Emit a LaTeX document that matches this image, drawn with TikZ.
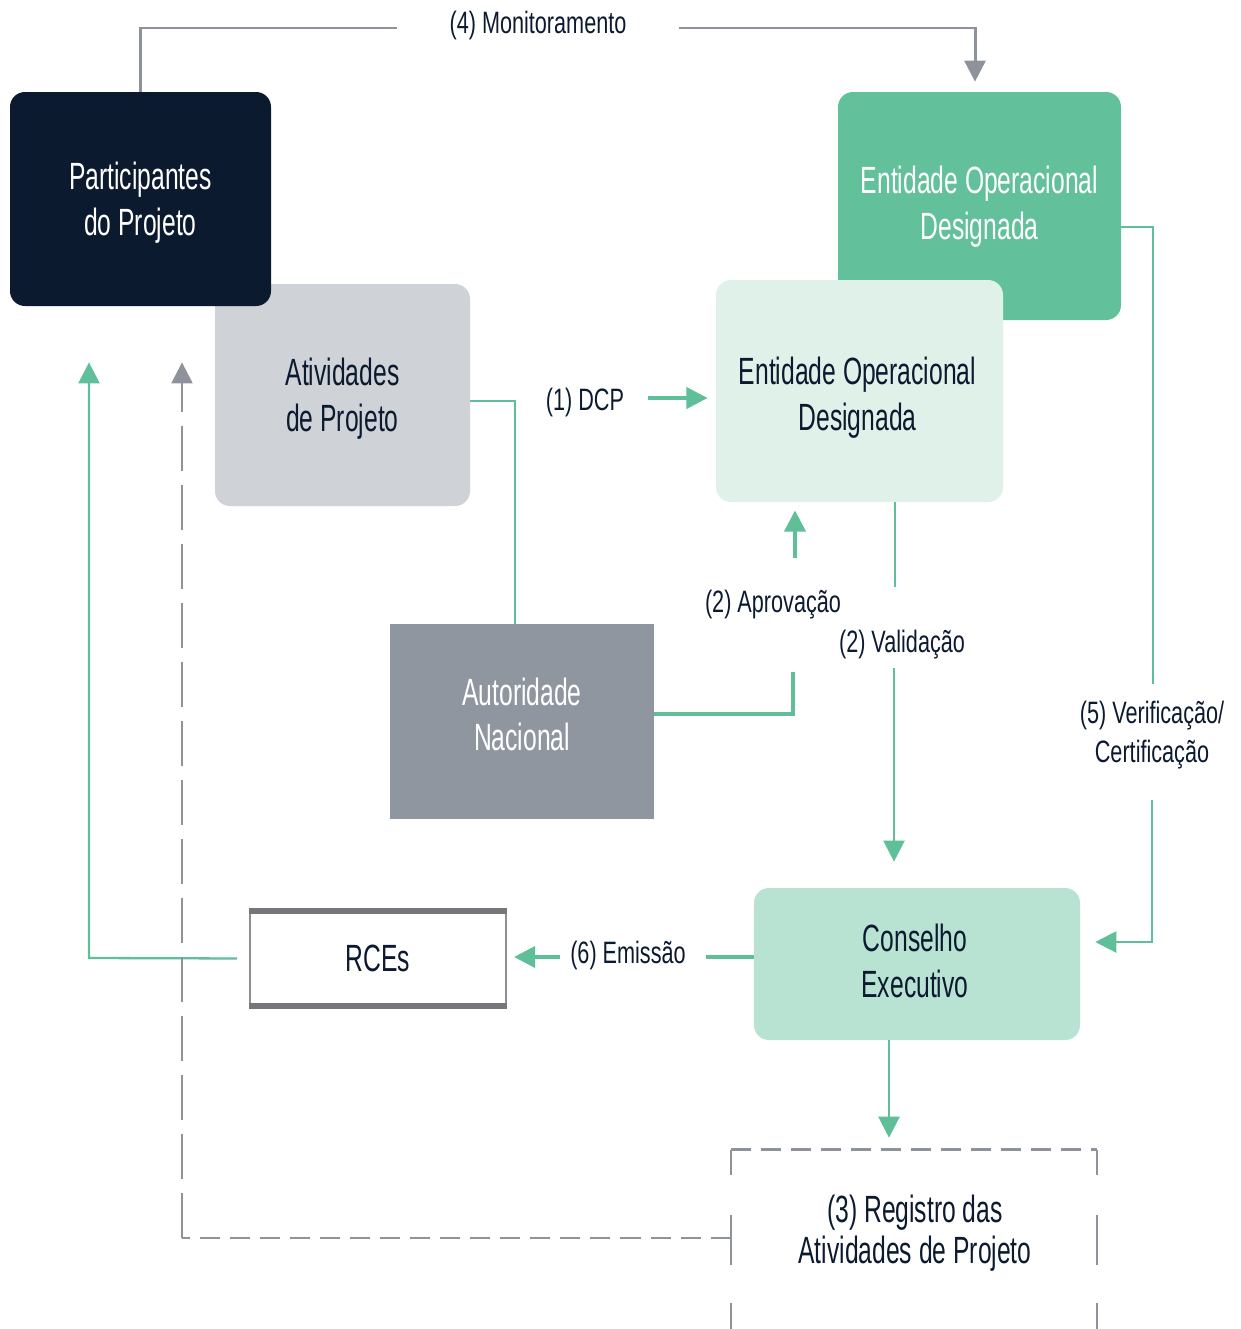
\documentclass[tikz,border=0pt]{standalone}
\usepackage{fontspec}
\usetikzlibrary{arrows.meta}
\newfontfamily\boxfont{Liberation Sans}[FakeStretch=0.65]
\newfontfamily\labfont{Liberation Sans}[FakeStretch=0.70]
\newdimen\pxu \pxu=0.02cm
\definecolor{navy}{HTML}{0C1A30}
\definecolor{eodgreen}{HTML}{62C09B}
\definecolor{eodlight}{HTML}{E0F1EA}
\definecolor{consgreen}{HTML}{B8E3D3}
\definecolor{atvgray}{HTML}{CFD2D7}
\definecolor{autgray}{HTML}{9096A0}
\definecolor{linegreen}{HTML}{5EBF98}
\definecolor{linegray}{HTML}{8E939B}
\definecolor{rceborder}{HTML}{8E8E93}
\definecolor{rcedark}{HTML}{77777B}
\begin{document}
\begin{tikzpicture}[x=0.02cm,y=-0.02cm,
  boxn/.style={inner sep=0pt, rounded corners=8.5pt},
  boxt/.style={inner sep=0pt, align=center,
    font=\boxfont\fontsize{21.6pt}{26pt}\selectfont},
  lab/.style={inner sep=0pt, align=center, text=navy,
    font=\labfont\fontsize{17.6pt}{22pt}\selectfont},
  gl/.style={draw=linegreen, line width=1.3pt},
  gt/.style={draw=linegreen, line width=2pt},
  gmon/.style={draw=linegray, line width=1.7pt},
  gdash/.style={draw=linegray, line width=1.4pt},
  tipg/.style={-{Triangle[width=12pt,length=12pt]}},
]
\useasboundingbox (0,0) rectangle (1241,1329);

% boxes (back to front)
\node[boxn, fill=atvgray, minimum width=255\pxu, minimum height=222\pxu] (atv) at (342.5,395) {};
\node[boxt, text=navy] (atvT) at ([yshift=-4\pxu]atv.center) {Atividades\\de Projeto};
\node[boxn, fill=navy, minimum width=261\pxu, minimum height=214\pxu] (part) at (140.5,199) {};
\node[boxt, text=white] (partT) at ([yshift=-4\pxu]part.center) {Participantes\\do Projeto};
\node[boxn, fill=eodgreen, minimum width=283\pxu, minimum height=228\pxu] (eodA) at (979.5,206) {};
\node[boxt, text=white] (eodAT) at ([yshift=-1\pxu]eodA.center) {Entidade Operacional\\Designada};
\node[boxn, fill=eodlight, minimum width=287\pxu, minimum height=222\pxu] (eodB) at (859.5,391) {};
\node[boxt, text=navy] (eodBT) at ([xshift=-2\pxu,yshift=-7\pxu]eodB.center) {Entidade Operacional\\Designada};
\node[boxn, rounded corners=0pt, fill=autgray, minimum width=264\pxu, minimum height=195\pxu] (aut) at (522,721.5) {};
\node[boxt, text=white] (autT) at ([yshift=7\pxu]aut.center) {Autoridade\\Nacional};
\node[boxn, rounded corners=0pt, fill=white, draw=rceborder, line width=1.2pt, minimum width=256\pxu, minimum height=93\pxu] (rce) at (378,958.5) {};
\node[boxt, text=navy] (rceT) at (rce.center) {RCEs};
\draw[rcedark, line width=3.4pt] (rce.north west) -- (rce.north east);
\draw[rcedark, line width=3.4pt] (rce.south west) -- (rce.south east);
\node[boxn, fill=consgreen, minimum width=326\pxu, minimum height=152\pxu] (cons) at (917,964) {};
\node[boxt, text=navy] (consT) at ([xshift=-2\pxu,yshift=3\pxu]cons.center) {Conselho\\Executivo};

% registro frame
\node[inner sep=0pt, minimum width=366\pxu, minimum height=179\pxu] (reg) at (914,1239.5) {};
\node[boxt, text=navy, font=\boxfont\fontsize{21.6pt}{23.5pt}\selectfont] (regT) at (915,1233) {(3) Registro das\\Atividades de Projeto};
\draw[gdash, dash pattern=on 11.4pt off 5.7pt] (reg.north west) -- (reg.north east);
\draw[gdash, line width=1.2pt, dash pattern=on 14.2pt off 22.8pt on 28.5pt off 21.6pt on 30pt off 10pt] (reg.north west) -- (reg.south west);
\draw[gdash, line width=1.2pt, dash pattern=on 14.2pt off 22.8pt on 28.5pt off 21.6pt on 30pt off 10pt] (reg.north east) -- (reg.south east);

% labels
\node[lab] (mon) at (538,25) {(4) Monitoramento};
\node[lab] (dcp) at (585,402) {(1) DCP};
\node[lab] (apr) at (773,605) {(2) Aprovação};
\node[lab] (val) at (902,645) {(2) Validação};
\node[lab] (ver) at (1152,735) {(5) Verificação/\\Certificação};
\node[lab] (emi) at (628,955) {(6) Emissão};

% (4) Monitoramento
\coordinate (mL) at (397,28);
\coordinate (mR) at (679,28);
\coordinate (mX) at (975,92);
\draw[gmon] (part.north) |- (mL);
\draw[gmon, tipg, shorten >=5.7pt] (mR) -| (mX |- eodA.north);

% Atividades -> Autoridade
\draw[gl] ([yshift=-6\pxu]atv.east) -| ([xshift=-7\pxu]aut.north);

% (1) DCP
\coordinate (dcA) at (648,398);
\draw[gt, tipg, shorten >=4.6pt] (dcA) -- (eodB.west |- dcA);

% (2) Aprovacao
\coordinate (apA) at (793,672);
\draw[gt] ([yshift=7.5\pxu]aut.east) -| (apA);
\coordinate (apB) at (795,558);
\draw[gt, tipg, shorten >=4.6pt] (apB) -- (apB |- eodB.south);

% (2) Validacao
\coordinate (vA) at (895,587);
\draw[gl] (vA |- eodB.south) -- (vA);
\coordinate (vB) at (894,668);
\draw[gl, tipg, shorten >=14.8pt] (vB) -- (vB |- cons.north);

% (5) Verificacao
\coordinate (veA) at (1153,684);
\draw[gl] ([yshift=-21\pxu]eodA.east) -| (veA);
\coordinate (veB) at (1152,800);
\draw[gl, tipg, shorten >=8.5pt] (veB) |- ([yshift=22\pxu]cons.east);

% (6) Emissao
\coordinate (eA) at (706,957);
\draw[gt] (cons.west |- eA) -- (eA);
\coordinate (eB) at (560,957);
\draw[gt, tipg, shorten >=4pt] (eB) -- (rce.east |- eB);

% RCEs -> Participantes
\coordinate (gx) at (89,958);
\draw[gl, tipg, shorten <=6.8pt, shorten >=31.9pt] (rce.west) -- (gx) -- (gx |- part.south);

% Conselho -> Registro
\coordinate (cx) at (889,1040);
\draw[gl, tipg, shorten >=6.8pt] (cons.south -| cx) -- (cx |- reg.north);

% Registro -> Participantes (dashed)
\coordinate (dA) at (182,1238);
\draw[gdash, dash pattern=on 11.4pt off 5.7pt] (reg.west |- dA) -- (dA);
\draw[gdash, tipg, dash pattern=on 25.6pt off 8pt, shorten >=31.9pt] (dA) -- (dA |- part.south);
\end{tikzpicture}
\end{document}
